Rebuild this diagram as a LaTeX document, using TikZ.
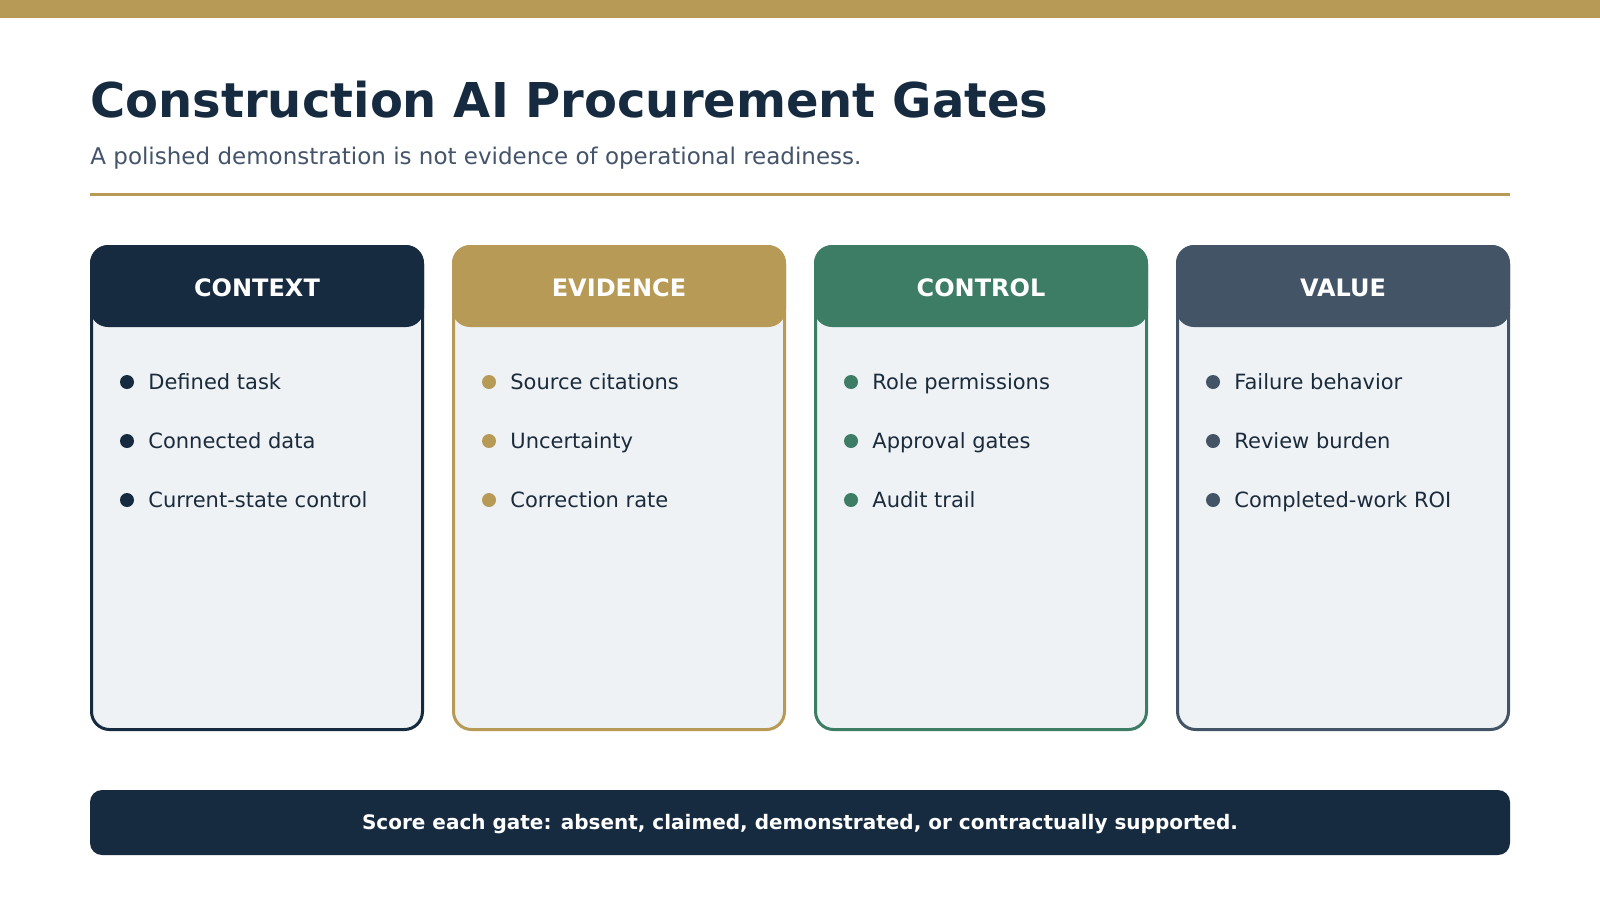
\documentclass[tikz,border=0pt]{standalone}
\usepackage{fontspec}
\setmainfont{DejaVu Sans}
\definecolor{cnavy}{HTML}{162B40}
\definecolor{cgold}{HTML}{B89A57}
\definecolor{cgreen}{HTML}{3D7D66}
\definecolor{cslate}{HTML}{435466}
\definecolor{cardfill}{HTML}{EEF2F5}
\definecolor{subgray}{HTML}{44546A}
\definecolor{textnavy}{HTML}{1B2B3B}
\tikzset{
  cardbox/.style={rectangle, fill=cardfill, line width=1.5pt, rounded corners=9pt, minimum width=165.5pt, minimum height=241.5pt, inner sep=0pt},
  headbox/.style={rectangle, rounded corners=9pt, minimum width=167pt, minimum height=41pt, inner sep=0pt},
  headtext/.style={anchor=base, inner sep=0pt, text=white, font=\fontsize{12}{14}\selectfont\bfseries},
  dotmark/.style={circle, inner sep=0pt, minimum size=7pt},
  itemtext/.style={anchor=base west, inner sep=0pt, text=textnavy, font=\fontsize{10.5}{12}\selectfont},
}
\begin{document}
\begin{tikzpicture}[x=0.5pt, y=-0.5pt]
\useasboundingbox (0,0) rectangle (1600,900);
\fill[white] (0,0) rectangle (1600,900);
% top bar
\fill[cgold] (0,0) rectangle (1600,18);
% title
\node[anchor=base west, inner sep=0pt, text=cnavy, font=\fontsize{24}{28}\selectfont\bfseries] (title) at (90,117) {Construction AI Procurement Gates};
\node[anchor=base west, inner sep=0pt, text=subgray, font=\fontsize{11.5}{14}\selectfont] (subtitle) at (90,164) {A polished demonstration is not evidence of operational readiness.};
\draw[cgold, line width=1.5pt] (90,194) -- (1510,194);
% cards
\foreach \i/\col/\ttl/\a/\b/\c in {
  0/cnavy/CONTEXT/Defined task/Connected data/Current-state control,
  1/cgold/EVIDENCE/Source citations/Uncertainty/Correction rate,
  2/cgreen/CONTROL/Role permissions/Approval gates/Audit trail,
  3/cslate/VALUE/Failure behavior/Review burden/Completed-work ROI}{
  \pgfmathsetmacro{\cx}{90+\i*362}
  \node[cardbox, draw=\col] (card\i) at (\cx+167,488) {};
  \node[headbox, fill=\col] (head\i) at (\cx+167,286) {};
  \node[headtext] (htext\i) at (\cx+167,296) {\ttl};
  \node[dotmark, fill=\col] (dota\i) at (\cx+37,382) {};
  \node[dotmark, fill=\col] (dotb\i) at (\cx+37,441) {};
  \node[dotmark, fill=\col] (dotc\i) at (\cx+37,500) {};
  \node[itemtext] (ia\i) at (\cx+58,389) {\a};
  \node[itemtext] (ib\i) at (\cx+58,448) {\b};
  \node[itemtext] (ic\i) at (\cx+58,507) {\c};
}
% footer
\node[rectangle, fill=cnavy, rounded corners=6pt, minimum width=710pt, minimum height=32.5pt, inner sep=0pt] (footer) at (800,822.5) {};
\node[anchor=base, inner sep=0pt, text=white, font=\fontsize{10}{12}\selectfont\bfseries] (ftext) at (800,829) {Score each gate: absent, claimed, demonstrated, or contractually supported.};
\end{tikzpicture}
\end{document}
